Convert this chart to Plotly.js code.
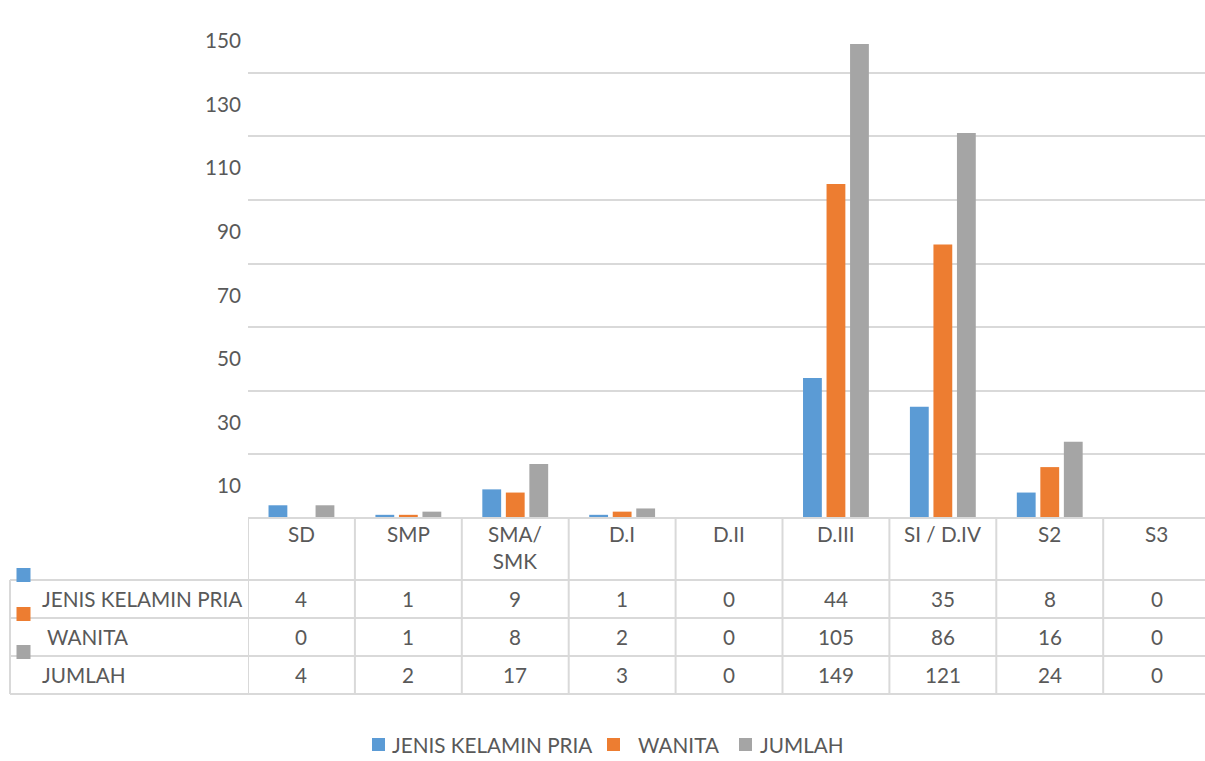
<!DOCTYPE html>
<html>
<head>
<meta charset="utf-8">
<script src="https://cdn.plot.ly/plotly-3.0.1.min.js"></script>
<style>html,body{margin:0;padding:0;background:#fff;}#chart{width:1205px;height:761px;}</style>
</head>
<body>
<div id="chart"></div>
<script>
const categories = ["SD", "SMP", "SMA/<br>SMK", "D.I", "D.II", "D.III", "SI / D.IV", "S2", "S3"];
const seriesNames = ["JENIS KELAMIN PRIA", " WANITA", "JUMLAH"];
const rowLabels = ["JENIS KELAMIN PRIA", " WANITA", "JUMLAH"];
const pria = [4, 1, 9, 1, 0, 44, 35, 8, 0];
const wanita = [0, 1, 8, 2, 0, 105, 86, 16, 0];
const jumlah = [4, 2, 17, 3, 0, 149, 121, 24, 0];
const yTickVals = [10, 30, 50, 70, 90, 110, 130, 150];
const colors = ["#5B9BD5", "#ED7D31", "#A5A5A5"];

const W = 1205, H = 761;
const L = 248, R = 0, T = 9, B = 243;
const plotW = W - L - R, plotH = H - T - B;
const px = v => (v - L) / plotW;           // pixel x -> paper
const py = v => (H - B - v) / plotH;       // pixel y -> paper
const FS = 20.7;
const textColor = "#595959";
const gridColor = "#D9D9D9";
const fnt = {family: "Lato", size: FS, color: textColor};

const seriesVals = [pria, wanita, jumlah];
const traces = seriesVals.map((vals, i) => ({
  type: "bar",
  name: seriesNames[i],
  x: categories,
  y: vals,
  marker: {color: colors[i]},
  showlegend: false
}));
traces.push({type: "scatter", x: [categories[0]], y: [0], yaxis: "y2", mode: "markers",
  marker: {opacity: 0}, showlegend: false, hoverinfo: "skip"});

const shapes = [];
const annotations = [];

const colW = 106.9;
const xMax = -0.5 + plotW / colW;

const rowLines = [580, 618, 656, 694];
shapes.push({type: "line", xref: "paper", yref: "paper", x0: 0, x1: 1,
  y0: 0, y1: 0, line: {color: gridColor, width: 2}});
rowLines.forEach(yy => {
  shapes.push({type: "line", xref: "paper", yref: "paper", x0: px(10), x1: 1,
    y0: py(yy), y1: py(yy), line: {color: gridColor, width: 2}});
});
for (let i = 0; i < categories.length; i++) {
  shapes.push({type: "line", xref: "x", yref: "paper", x0: i - 0.5, x1: i - 0.5,
    y0: 0, y1: py(694), line: {color: gridColor, width: 2}});
}
shapes.push({type: "line", xref: "paper", yref: "paper", x0: px(10), x1: px(10),
  y0: py(580), y1: py(694), line: {color: gridColor, width: 2}});

categories.forEach(c => {
  annotations.push({xref: "x", yref: "paper", x: c, y: py(520), text: c, showarrow: false,
    xanchor: "center", yanchor: "top", align: "center", font: fnt});
});
const rowCenters = [599, 637, 675];
const keyTops = [568, 607, 645];
seriesVals.forEach((vals, r) => {
  vals.forEach((v, i) => {
    annotations.push({xref: "x", yref: "paper", x: categories[i], y: py(rowCenters[r]),
      text: String(v), showarrow: false, xanchor: "center", yanchor: "middle", font: fnt});
  });
  annotations.push({xref: "paper", yref: "paper", x: px(40), y: py(rowCenters[r]),
    text: rowLabels[r].replace(/^ /, "&nbsp;"), showarrow: false, xanchor: "left", yanchor: "middle",
    font: fnt});
  shapes.push({type: "rect", xref: "paper", yref: "paper", x0: px(16.5), x1: px(30.5),
    y0: py(keyTops[r]), y1: py(keyTops[r] + 14), fillcolor: colors[r], line: {width: 0}});
});

// bottom legend
const legKeyX = [372, 607, 739];
const legTextX = [390, 631, 758];
seriesNames.forEach((n, i) => {
  shapes.push({type: "rect", xref: "paper", yref: "paper", x0: px(legKeyX[i]), x1: px(legKeyX[i] + 13),
    y0: py(738), y1: py(751), fillcolor: colors[i], line: {width: 0}});
  annotations.push({xref: "paper", yref: "paper", x: px(legTextX[i]), y: py(745),
    text: n.replace(/^ /, "&nbsp;"), showarrow: false, xanchor: "left", yanchor: "middle", font: fnt});
});

const layout = {
  width: W, height: H,
  margin: {l: L, r: R, t: T, b: B, pad: 0},
  paper_bgcolor: "#fff", plot_bgcolor: "#fff",
  font: fnt,
  barmode: "group",
  bargap: 0.34,
  bargroupgap: 0.2,
  xaxis: {type: "category", range: [-0.5, xMax], showticklabels: false,
    showgrid: false, zeroline: false, showline: false, ticks: "", fixedrange: true},
  yaxis: {range: [0, 160], dtick: 20, tick0: 0, showticklabels: false, showgrid: true,
    gridcolor: gridColor, gridwidth: 2, zeroline: false, showline: false, ticks: "", fixedrange: true},
  yaxis2: {range: [0, 160], overlaying: "y", side: "left", tickmode: "array", tickvals: yTickVals,
    ticktext: yTickVals.map(String), showgrid: false, zeroline: false, showline: false, ticks: "",
    ticklabelstandoff: 6, tickfont: fnt, fixedrange: true},
  showlegend: false,
  shapes: shapes,
  annotations: annotations
};

Plotly.newPlot("chart", traces, layout, {displayModeBar: false, staticPlot: true});
</script>
</body>
</html>
